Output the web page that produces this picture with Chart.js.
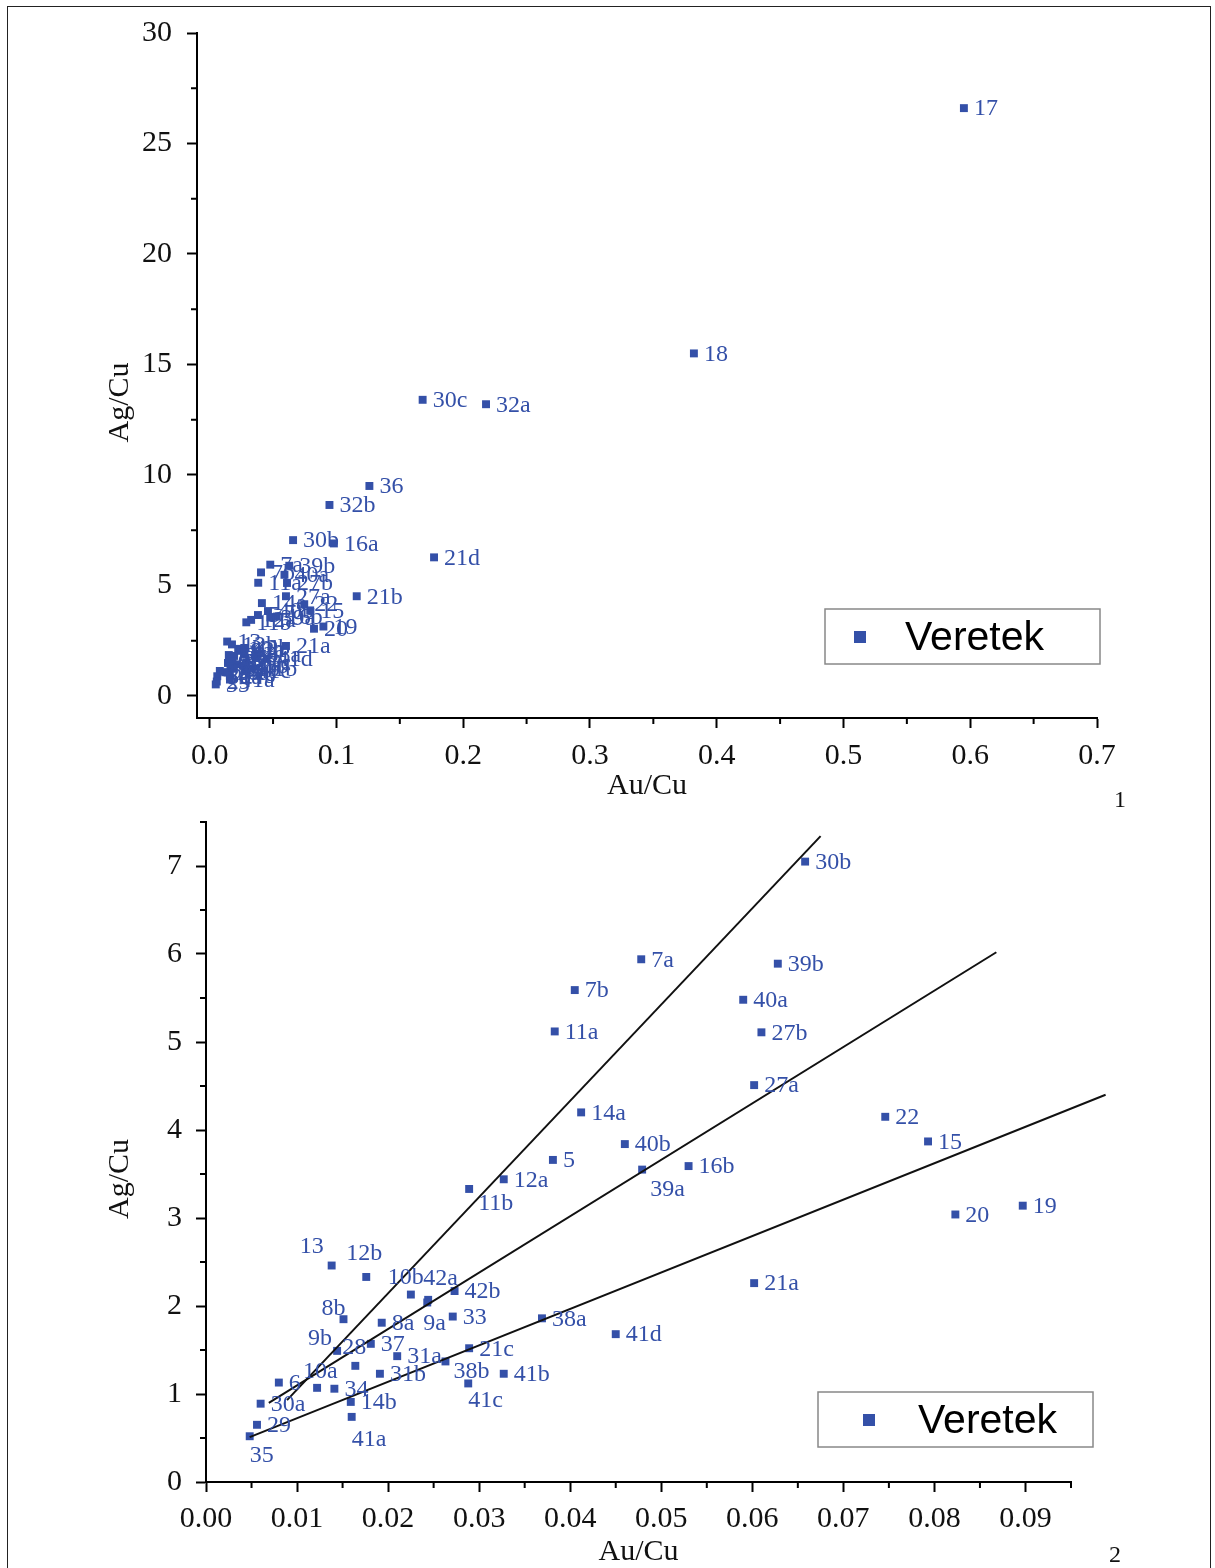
<!DOCTYPE html>
<html>
<head>
<meta charset="utf-8">
<script src="https://cdn.jsdelivr.net/npm/chart.js@4.4.0/dist/chart.umd.min.js"></script>
<style>
  body { margin: 0; background: #fff; }
  #page { position: relative; width: 1215px; height: 1568px; overflow: hidden; background: #fff; }
  #frame { position: absolute; left: 7px; top: 6px; width: 1202px; height: 1600px; border: 1px solid #222; }
  canvas { position: absolute; left: 0; }
  #top { top: 0; }
  #bottom { top: 790px; }
  .num { position: absolute; font: 24px 'Liberation Serif', 'Times New Roman', serif; color: #111; }
</style>
</head>
<body>
<div id="page">
  <div id="frame"></div>
  <canvas id="top" width="1215" height="810"></canvas>
  <canvas id="bottom" width="1215" height="778"></canvas>
  <div class="num" style="left:1114px; top:786px;">1</div>
  <div class="num" style="left:1109px; top:1541px;">2</div>
</div>
<script>
// samples (Au/Cu, Ag/Cu)
const sampleNames = ['17','18','30c','32a','36','32b','16a','21d','21b',
  '30b','7a','7b','39b','40a','11a','27b','27a','14a','22','15','40b','5','39a','16b','12a','11b','20','19','21a',
  '13','12b','10b','42a','9a','42b','8b','8a','33','38a','41d','9b','37','31a','28','31b','38b','21c','41b','41c',
  '6','10a','34','30a','14b','41a','29','35'];
const auCu = [0.595,0.382,0.168,0.218,0.126,0.0945,0.098,0.177,0.116,
  0.0658,0.0478,0.0405,0.0628,0.0590,0.0383,0.0610,0.0602,0.0412,0.0746,0.0793,0.0460,0.0381,0.0479,0.0530,0.0327,0.0289,0.0823,0.0897,0.0602,
  0.0138,0.0176,0.0225,0.0244,0.0243,0.0273,0.0151,0.0193,0.0271,0.0369,0.0450,0.0144,0.0181,0.0210,0.0164,0.0191,0.0263,0.0289,0.0327,0.0288,
  0.0080,0.0122,0.0141,0.0060,0.0159,0.0160,0.0056,0.0048];
const agCu = [26.6,15.5,13.4,13.2,9.5,8.64,6.9,6.27,4.51,
  7.05,5.94,5.59,5.89,5.48,5.12,5.11,4.51,4.20,4.15,3.87,3.84,3.66,3.55,3.59,3.44,3.33,3.04,3.14,2.26,
  2.46,2.33,2.13,2.07,2.04,2.17,1.85,1.81,1.88,1.86,1.68,1.49,1.57,1.43,1.32,1.23,1.37,1.52,1.23,1.12,
  1.13,1.07,1.06,0.89,0.91,0.74,0.65,0.52];

// trend lines of panel 2 (end points)
const trendX = [[0.0089, 0.0675], [0.0069, 0.0868], [0.0048, 0.0988]];
const trendY = [[0.93, 7.34], [0.90, 6.02], [0.51, 4.40]];

// ticks
const topXTicks = [0, 0.1, 0.2, 0.3, 0.4, 0.5, 0.6, 0.7];
const topYTicks = [0, 5, 10, 15, 20, 25, 30];
const topXMinor = [0.05, 0.15, 0.25, 0.35, 0.45, 0.55, 0.65];
const topYMinor = [2.5, 7.5, 12.5, 17.5, 22.5, 27.5];
const botXTicks = [0, 0.01, 0.02, 0.03, 0.04, 0.05, 0.06, 0.07, 0.08, 0.09];
const botYTicks = [0, 1, 2, 3, 4, 5, 6, 7];
const botXMinor = [0.005, 0.015, 0.025, 0.035, 0.045, 0.055, 0.065, 0.075, 0.085, 0.095];
const botYMinor = [0.5, 1.5, 2.5, 3.5, 4.5, 5.5, 6.5, 7.5];

const serif = "'Liberation Serif', 'Times New Roman', serif";
const blue = '#3450a8';

// label placement in panel 2 (text left edge / middle relative to the point), default to the right
const labelShift = {
  '13': [-32, -19], '12b': [-20, -23], '10b': [-23, -17], '42a': [-5, -21], '9a': [-4, 21],
  '8b': [-22, -10], '9b': [-29, -12], '28': [-13, -18], '10a': [-14, -16], '38b': [8, 10],
  '41c': [0, 17], '41a': [0, 23], '35': [0, 19], '39a': [8, 20], '11b': [9, 15]
};

const minorTicks = {
  id: 'minorTicks',
  afterDraw(chart, args, opts) {
    const ctx = chart.ctx, {x, y} = chart.scales;
    ctx.save();
    ctx.strokeStyle = '#000';
    ctx.lineWidth = 2;
    ctx.beginPath();
    opts.x.forEach(v => {
      const px = x.getPixelForValue(v);
      ctx.moveTo(px, x.top); ctx.lineTo(px, x.top + 6);
    });
    opts.y.forEach(v => {
      const py = y.getPixelForValue(v);
      ctx.moveTo(y.right, py); ctx.lineTo(y.right - 6, py);
    });
    ctx.stroke();
    ctx.restore();
  }
};

const pointNames = {
  id: 'pointNames',
  afterDatasetsDraw(chart, args, opts) {
    const ctx = chart.ctx, area = chart.chartArea;
    const meta = chart.getDatasetMeta(0);
    ctx.save();
    ctx.font = '24px ' + serif;
    ctx.fillStyle = blue;
    ctx.textBaseline = 'middle';
    ctx.textAlign = 'left';
    meta.data.forEach((pt, i) => {
      if (pt.x < area.left - 1 || pt.x > area.right + 1 || pt.y < area.top - 1 || pt.y > area.bottom + 1) return;
      const s = (opts.shifted && labelShift[sampleNames[i]]) || [10, 1];
      ctx.fillText(sampleNames[i], pt.x + s[0], pt.y + s[1]);
    });
    ctx.restore();
  }
};

// y title, drawn a little below the middle of the axis as in the original
const yTitle = {
  id: 'yTitle',
  afterDraw(chart, args, o) {
    const ctx = chart.ctx, area = chart.chartArea;
    ctx.save();
    ctx.translate(120, (area.top + area.bottom) / 2 + 27);
    ctx.rotate(-Math.PI / 2);
    ctx.font = '30px ' + serif;
    ctx.fillStyle = '#111';
    ctx.textAlign = 'center';
    ctx.textBaseline = 'middle';
    ctx.fillText(o.text, 0, 0);
    ctx.restore();
  }
};

const boxLegend = {
  id: 'boxLegend',
  afterDraw(chart, args, o) {
    const ctx = chart.ctx;
    ctx.save();
    ctx.fillStyle = '#fff';
    ctx.fillRect(o.x, o.y, o.w, o.h);
    ctx.strokeStyle = '#888';
    ctx.lineWidth = 1.5;
    ctx.strokeRect(o.x, o.y, o.w, o.h);
    ctx.fillStyle = blue;
    ctx.fillRect(o.mx - 6, o.my - 6, 12, 12);
    ctx.fillStyle = '#000';
    ctx.font = '41px "Liberation Sans", Arial, sans-serif';
    ctx.textBaseline = 'middle';
    ctx.fillText('Veretek', o.tx, o.my + 2);
    ctx.restore();
  }
};

function axisOpts(min, max, ticks, dec, size, fitSize, title, titlePad, tickPad) {
  return {
    type: 'linear', min: min, max: max,
    afterBuildTicks: s => { s.ticks = ticks.map(v => ({ value: v })); },
    afterFit: s => { s[size] = fitSize; },
    grid: { drawOnChartArea: false, drawTicks: true, tickLength: 10, tickWidth: 2, tickColor: '#000' },
    border: { color: '#000', width: 2 },
    ticks: {
      autoSkip: false, maxRotation: 0, padding: tickPad, color: '#111',
      font: { family: serif, size: 30 },
      callback: v => v.toFixed(dec)
    },
    title: {
      display: !!title, text: title || '', color: '#111',
      font: { family: serif, size: 30, lineHeight: 1 },
      padding: { top: 0, bottom: titlePad }
    }
  };
}

const points = () => auCu.map((x, i) => ({ x: x, y: agCu[i] }));
const pointSet = () => ({
  data: points(), order: 1, showLine: false,
  pointStyle: 'rect', pointRadius: 5.6, pointHoverRadius: 5.6,
  backgroundColor: blue, borderColor: blue, borderWidth: 0
});

new Chart(document.getElementById('top'), {
  type: 'scatter',
  data: { datasets: [pointSet()] },
  options: {
    responsive: false, animation: false,
    layout: { padding: { top: 31, right: 118, left: 0, bottom: 0 } },
    events: [],
    plugins: {
      legend: { display: false }, tooltip: { enabled: false },
      minorTicks: { x: topXMinor, y: topYMinor },
      pointNames: { shifted: false },
      yTitle: { text: 'Ag/Cu' },
      boxLegend: { x: 825, y: 609, w: 275, h: 55, mx: 860, my: 637, tx: 905 }
    },
    scales: {
      x: axisOpts(-0.01, 0.7, topXTicks, 1, 'height', 92, 'Au/Cu', 9, 10),
      y: axisOpts(-1, 30, topYTicks, 0, 'width', 197, null, 0, 15)
    }
  },
  plugins: [minorTicks, pointNames, yTitle, boxLegend]
});

const lineSets = trendX.map((xs, k) => ({
  data: xs.map((x, j) => ({ x: x, y: trendY[k][j] })),
  showLine: true, order: 0, clip: false,
  pointRadius: 0, pointHoverRadius: 0,
  borderColor: '#111', borderWidth: 2, backgroundColor: '#111'
}));

new Chart(document.getElementById('bottom'), {
  type: 'scatter',
  data: { datasets: [pointSet()].concat(lineSets) },
  options: {
    responsive: false, animation: false,
    layout: { padding: { top: 31, right: 144, left: 0, bottom: 0 } },
    events: [],
    plugins: {
      legend: { display: false }, tooltip: { enabled: false },
      minorTicks: { x: botXMinor, y: botYMinor },
      pointNames: { shifted: true },
      yTitle: { text: 'Ag/Cu' },
      boxLegend: { x: 818, y: 602, w: 275, h: 55, mx: 869, my: 630, tx: 918 }
    },
    scales: {
      x: axisOpts(0, 0.095, botXTicks, 2, 'height', 86, 'Au/Cu', 1, 9),
      y: axisOpts(0, 7.5, botYTicks, 0, 'width', 206, null, 0, 14)
    }
  },
  plugins: [minorTicks, pointNames, yTitle, boxLegend]
});
</script>
</body>
</html>
